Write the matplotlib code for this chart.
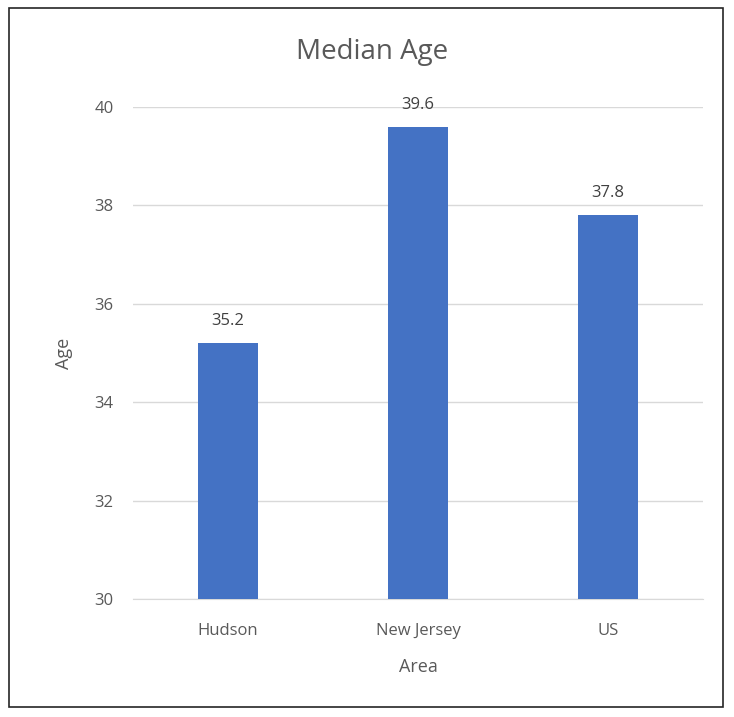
import matplotlib
matplotlib.use('Agg')
import matplotlib.pyplot as plt
import matplotlib.patches as patches

areas = ['Hudson', 'New Jersey', 'US']
median_age = [35.2, 39.6, 37.8]
y_ticks = [30, 32, 34, 36, 38, 40]

plt.rcParams['font.family'] = ['Open Sans', 'DejaVu Sans']

W, H = 734, 717
fig = plt.figure(figsize=(W / 100, H / 100), dpi=100)

# outer border of the chart
fig.patches.append(patches.Rectangle((9 / W, 1 - 707 / H), 714 / W, 699 / H,
                                     transform=fig.transFigure, fill=False,
                                     edgecolor='#262626', linewidth=1.2))

ax = fig.add_axes([133 / W, 1 - 599 / H, 570 / W, 492 / H])
x = range(len(areas))
bars = ax.bar(x, median_age, width=0.316, color='#4472C4', zorder=3)
for b, v in zip(bars, median_age):
    ax.text(b.get_x() + b.get_width() / 2, v + 0.28, f'{v}', ha='center', va='bottom',
            fontsize=12, color='#404040')

ax.set_xlim(-0.5, 2.5)
ax.set_ylim(30, 40)
ax.set_yticks(y_ticks)
ax.set_xticks(list(x))
ax.set_xticklabels(areas)
ax.grid(axis='y', color='#D9D9D9', linewidth=1, zorder=0)
for s in ['top', 'right', 'left']:
    ax.spines[s].set_visible(False)
ax.spines['bottom'].set_color('#D9D9D9')
ax.tick_params(length=0, labelsize=12, colors='#595959')
ax.tick_params(axis='x', pad=17)
ax.tick_params(axis='y', pad=14)

fig.text(372 / W, 1 - 52 / H, 'Median Age', fontsize=20, color='#595959',
         ha='center', va='center')
ax.set_ylabel('Age', fontsize=13, color='#595959', labelpad=15)
ax.set_xlabel('Area', fontsize=13, color='#595959', labelpad=14)

plt.savefig('out.png', dpi=100)
